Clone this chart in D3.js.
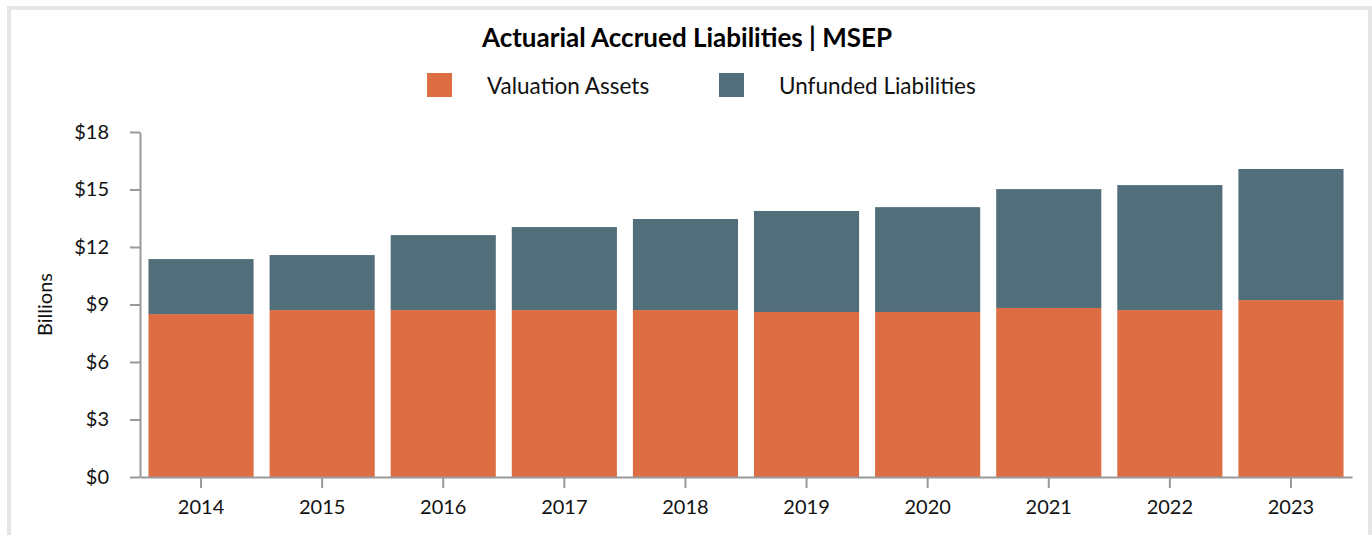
<!DOCTYPE html>
<html>
<head>
<meta charset="utf-8">
<script src="https://cdn.jsdelivr.net/npm/d3@7"></script>
<style>
  body { margin: 0; background: #fff; }
  svg text { font-family: Lato, "Open Sans", sans-serif; }
</style>
</head>
<body>
<div class="chart"></div>
<script>
// data (billions)
let years = ["2014", "2015", "2016", "2017", "2018", "2019", "2020", "2021", "2022", "2023"]
let valuationAssets = [8.50, 8.71, 8.71, 8.71, 8.71, 8.61, 8.61, 8.82, 8.71, 9.23]
let unfundedLiabilities = [2.87, 2.87, 3.91, 4.33, 4.75, 5.27, 5.47, 6.20, 6.52, 6.84]
let seriesNames = ["Valuation Assets", "Unfunded Liabilities"]
let seriesColors = ["#dd6e43", "#526e7a"]
let yTicks = [0, 3, 6, 9, 12, 15, 18]

let width = 1372, height = 535
let plotLeft = 140, plotRight = 1352, plotTop = 132, plotBottom = 477

let svg = d3.select(".chart")
    .append("svg")
    .attr("width", width)
    .attr("height", height)

// outer frame
svg.append("rect")
    .attr("x", 9)
    .attr("y", 8)
    .attr("width", 1361)
    .attr("height", 560)
    .attr("fill", "#fff")
    .attr("stroke", "#e6e6e6")
    .attr("stroke-width", 4)

let table = years.map((y, i) => ({ year: y, assets: valuationAssets[i], unfunded: unfundedLiabilities[i] }))
let stack = d3.stack().keys(["assets", "unfunded"])(table)

let xScale = d3.scaleBand()
    .domain(years)
    .range([plotLeft, plotRight])
    .paddingInner(0.132)
    .paddingOuter(0.07)

let yScale = d3.scaleLinear()
    .domain([0, 18])
    .range([plotBottom, plotTop])

// bars
svg.append("g")
    .selectAll("g")
    .data(stack)
    .enter()
    .append("g")
    .attr("fill", (d, i) => seriesColors[i])
    .selectAll("rect")
    .data((d) => d)
    .enter()
    .append("rect")
    .attr("x", (d) => xScale(d.data.year))
    .attr("width", xScale.bandwidth())
    .attr("y", (d) => yScale(d[1]))
    .attr("height", (d) => yScale(d[0]) - yScale(d[1]))

// y axis
let yAxis = svg.append("g")
    .attr("transform", `translate(${plotLeft},0)`)
    .call(d3.axisLeft(yScale).tickValues(yTicks).tickSize(10).tickPadding(21)
        .tickSizeOuter(0).tickFormat((d) => "$" + d))
yAxis.select(".domain").attr("stroke", "#999").attr("stroke-width", 2)
yAxis.selectAll(".tick line").attr("stroke", "#999").attr("stroke-width", 2)
yAxis.selectAll(".tick text").attr("font-size", 20).attr("fill", "#111")
    .attr("font-family", "Lato, sans-serif")

// x axis
let xAxis = svg.append("g")
    .attr("transform", `translate(0,${plotBottom})`)
    .call(d3.axisBottom(xScale).tickSize(11).tickPadding(12).tickSizeOuter(0))
xAxis.select(".domain").attr("stroke", "#999").attr("stroke-width", 2)
xAxis.selectAll(".tick line").attr("stroke", "#999").attr("stroke-width", 2)
xAxis.selectAll(".tick text").attr("font-size", 20).attr("fill", "#111")
    .attr("font-family", "Lato, sans-serif")

// y label
svg.append("text")
    .attr("transform", `translate(52,${(plotTop + plotBottom) / 2}) rotate(-90)`)
    .attr("text-anchor", "middle")
    .attr("font-size", 20)
    .attr("fill", "#111")
    .text("Billions")

// title
svg.append("text")
    .attr("x", 687)
    .attr("y", 47)
    .attr("text-anchor", "middle")
    .attr("font-size", 26)
    .attr("font-weight", "bold")
    .attr("fill", "#000")
    .text("Actuarial Accrued Liabilities | MSEP")

// legend
let legendX = [427, 719]
let legend = svg.append("g")
    .selectAll("g")
    .data(seriesNames)
    .enter()
    .append("g")
    .attr("transform", (d, i) => `translate(${legendX[i]},73)`)
legend.append("rect")
    .attr("width", 25)
    .attr("height", 24)
    .attr("fill", (d, i) => seriesColors[i])
legend.append("text")
    .attr("x", 60)
    .attr("y", 21)
    .attr("font-size", 22.5)
    .attr("fill", "#111")
    .text((d) => d)
</script>
</body>
</html>
